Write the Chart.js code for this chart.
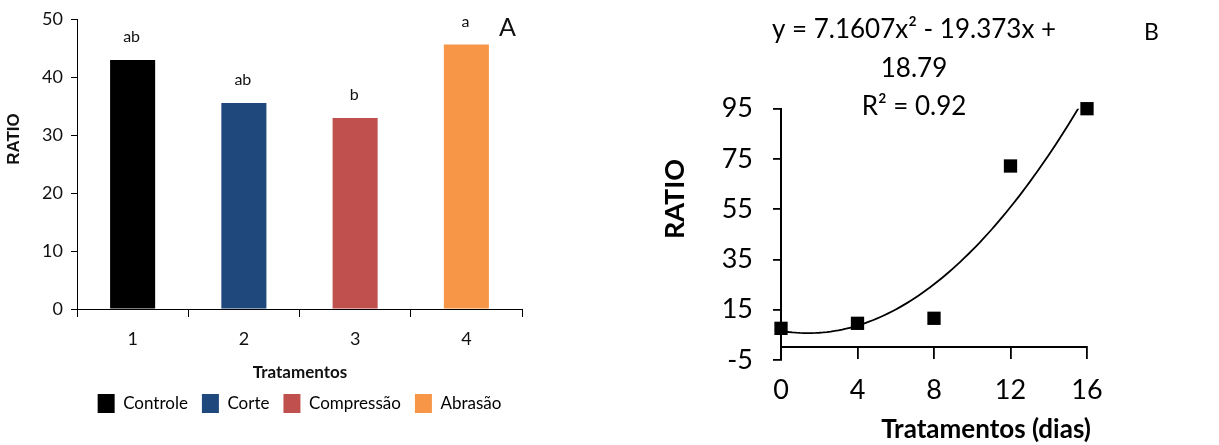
<!DOCTYPE html>
<html><head><meta charset="utf-8">
<script src="https://cdn.jsdelivr.net/npm/chart.js@4.4.1/dist/chart.umd.min.js"></script>
<style>
html,body{margin:0;padding:0;background:#fff;}
#wrap{position:relative;width:1219px;height:445px;overflow:hidden;background:#fff;}
#ca{position:absolute;left:0;top:0;}
#cb{position:absolute;left:620px;top:0;}
</style></head><body>
<div id="wrap"><canvas id="ca" width="620" height="445"></canvas><canvas id="cb" width="599" height="445"></canvas></div>
<script>
// ---- Panel A data ----
const treatmentCategories = ['1', '2', '3', '4'];
const treatmentNames = ['Controle', 'Corte', 'Compressão', 'Abrasão'];
const ratioValues = [43.0, 35.6, 33.0, 45.7];
const significanceLetters = ['ab', 'ab', 'b', 'a'];
const barColors = ['#000000', '#1F497D', '#C0504D', '#F79646'];
const yTicksA = [0, 10, 20, 30, 40, 50];

// ---- Panel B data ----
const daysB = [0, 4, 8, 12, 16];
const ratioB = [7.6, 9.6, 11.6, 72.2, 95.0];
const xTicksB = [0, 4, 8, 12, 16];
const yTicksB = [-5, 15, 35, 55, 75, 95];
const trendCoefs = [7.1607, -19.373, 18.79]; // Excel trendline, x = point index (day/4 + 1)
const equationLines = ['y = 7.1607x² - 19.373x +', '18.79', 'R² = 0.92'];

const TXT = '#111';

// trendline points from the displayed equation
const trendPts = [];
for (let d = 0; d <= 16.0001; d += 0.2) {
  const xi = d / 4 + 1;
  trendPts.push({x: d, y: trendCoefs[0] * xi * xi + trendCoefs[1] * xi + trendCoefs[2]});
}

const annotA = {
  id: 'annotA',
  afterDatasetsDraw(chart) {
    const {ctx, scales: {x, y}} = chart;
    ctx.save();
    ctx.fillStyle = TXT;
    ctx.textAlign = 'center';
    ctx.textBaseline = 'middle';
    ctx.font = '16px Lato';
    significanceLetters.forEach((t, i) => {
      ctx.fillText(t, x.getPixelForValue(i) - 1, y.getPixelForValue(ratioValues[i]) - 23);
    });
    ctx.font = '25px Lato';
    ctx.fillText('A', 507.5, 28);
    ctx.font = 'bold 17px Lato';
    ctx.fillText('Tratamentos', 300, 373);
    ctx.translate(14, 139);
    ctx.rotate(-Math.PI / 2);
    ctx.font = 'bold 17px "Liberation Sans"';
    ctx.fillText('RATIO', 0, 0);
    ctx.restore();
  }
};

const annotB = {
  id: 'annotB',
  afterDatasetsDraw(chart) {
    const {ctx} = chart;
    ctx.save();
    ctx.fillStyle = '#000';
    ctx.textAlign = 'center';
    ctx.textBaseline = 'middle';
    ctx.font = '26px Lato';
    const ly = [30, 69, 107];
    equationLines.forEach((t, i) => ctx.fillText(t, 294, ly[i]));
    ctx.font = '23px Lato';
    ctx.fillText('B', 531.5, 33);
    ctx.font = 'bold 26px Lato';
    ctx.fillText('Tratamentos (dias)', 366, 430);
    ctx.translate(55, 199);
    ctx.rotate(-Math.PI / 2);
    ctx.font = 'bold 27px Lato';
    ctx.fillText('RATIO', 0, 0);
    ctx.restore();
  }
};

new Chart(document.getElementById('ca'), {
  type: 'bar',
  data: {
    labels: treatmentCategories,
    datasets: [{
      data: ratioValues,
      backgroundColor: barColors,
      borderWidth: 0,
      categoryPercentage: 1,
      barPercentage: 0.405
    }]
  },
  options: {
    responsive: false,
    animation: false,
    layout: {padding: {left: 0, right: 98, top: 19.5, bottom: 22}},
    plugins: {
      legend: {
        position: 'bottom',
        fullSize: false,
        labels: {
          boxWidth: 17, boxHeight: 19, padding: 14, color: TXT,
          font: {family: 'Lato', size: 17},
          generateLabels: () => treatmentNames.map((n, i) => ({
            text: n, fillStyle: barColors[i], strokeStyle: barColors[i], lineWidth: 0, hidden: false, index: i
          }))
        }
      },
      tooltip: {enabled: false}
    },
    scales: {
      x: {
        grid: {drawOnChartArea: false, tickLength: 8, color: '#000', offset: true},
        border: {color: '#000', width: 1},
        ticks: {color: TXT, padding: 11, font: {family: 'Lato', size: 18}},
        afterFit: s => { s.height = 71; }
      },
      y: {
        min: 0, max: 50,
        afterBuildTicks: s => { s.ticks = yTicksA.map(v => ({value: v})); },
        grid: {drawOnChartArea: false, tickLength: 6, color: '#000'},
        border: {color: '#000', width: 1},
        ticks: {color: TXT, padding: 8, font: {family: 'Lato', size: 18}},
        afterFit: s => { s.width = 77; }
      }
    }
  },
  plugins: [annotA]
});

new Chart(document.getElementById('cb'), {
  type: 'scatter',
  data: {
    datasets: [
      {
        type: 'scatter',
        data: daysB.map((d, i) => ({x: d, y: ratioB[i]})),
        pointStyle: 'rect', pointRadius: 9.4, pointHoverRadius: 9.4,
        backgroundColor: '#000', borderColor: '#000', borderWidth: 0,
        clip: false,
        order: 0
      },
      {
        type: 'line',
        data: trendPts,
        borderColor: '#000', borderWidth: 1.8,
        pointRadius: 0, fill: false, tension: 0,
        clip: 0,
        order: 1
      }
    ]
  },
  options: {
    responsive: false,
    animation: false,
    layout: {padding: {left: 0, right: 132, top: 108.7, bottom: 85}},
    plugins: {legend: {display: false}, tooltip: {enabled: false}},
    scales: {
      x: {
        type: 'linear', position: {y: 0}, min: 0, max: 16,
        afterBuildTicks: s => { s.ticks = xTicksB.map(v => ({value: v})); },
        grid: {drawOnChartArea: false, tickLength: 11, color: '#000', lineWidth: 1.8},
        border: {color: '#000', width: 2},
        ticks: {color: '#000', padding: 16, font: {family: 'Lato', size: 27}}
      },
      y: {
        type: 'linear', min: -5, max: 95,
        afterBuildTicks: s => { s.ticks = yTicksB.map(v => ({value: v})); },
        grid: {drawOnChartArea: false, tickLength: 8, color: '#000', lineWidth: 1.8},
        border: {color: '#000', width: 2},
        ticks: {color: '#000', padding: 20, font: {family: 'Lato', size: 27}},
        afterFit: s => { s.width = 161; }
      }
    }
  },
  plugins: [annotB]
});
</script>
</body></html>
